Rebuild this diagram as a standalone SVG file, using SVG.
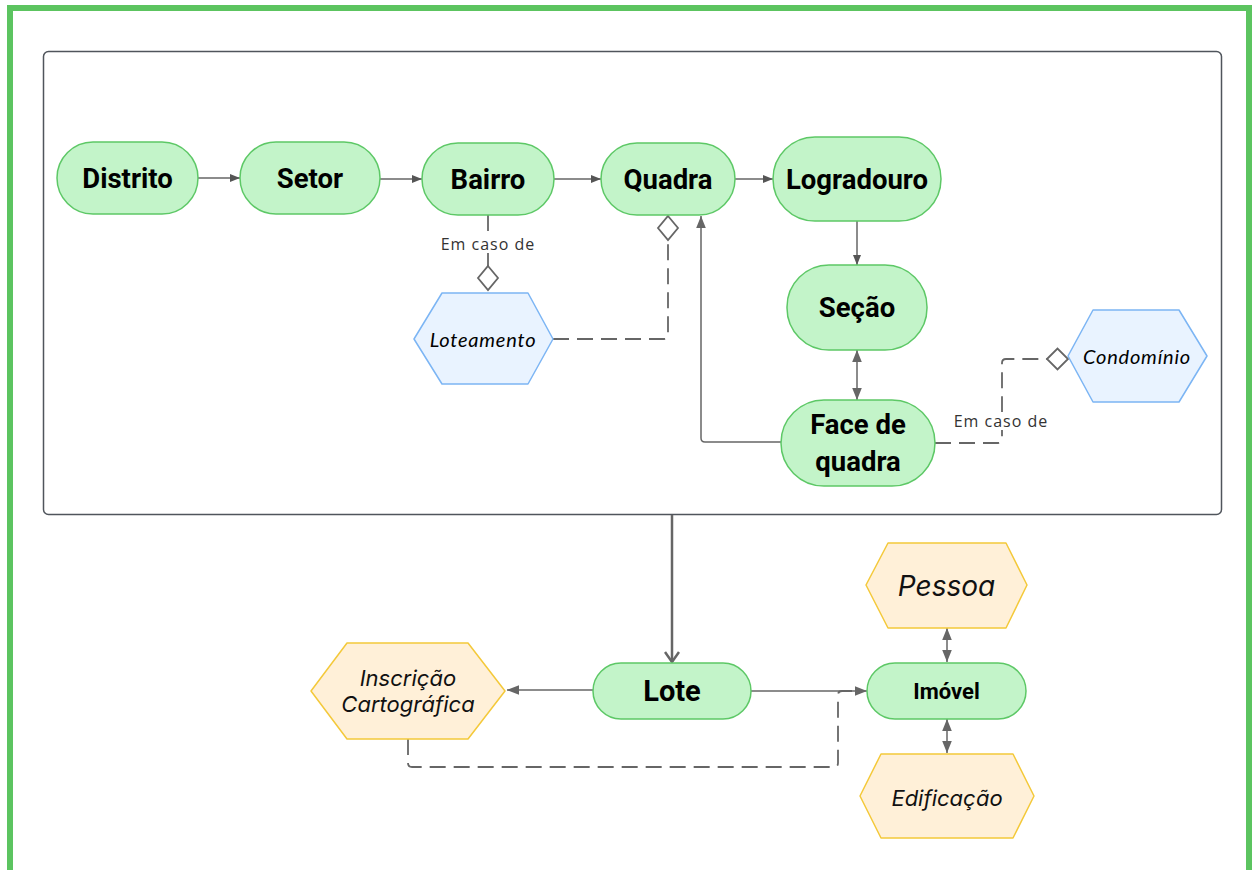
<svg xmlns="http://www.w3.org/2000/svg" width="1252" height="870" viewBox="0 0 1252 870">
<style>
.g rect{fill:#c3f4c9;stroke:#5dc866;stroke-width:1.5}
.gt{font-family:Roboto,"Liberation Sans",sans-serif;font-weight:bold;font-size:27.5px;fill:#000;text-anchor:middle;dominant-baseline:central}
.bh{fill:#e9f3ff;stroke:#7cb5f4;stroke-width:1.5;stroke-linejoin:round}
.yh{fill:#fff0d8;stroke:#f4c93a;stroke-width:1.5;stroke-linejoin:round}
.bt{font-family:Lato,"Noto Sans",sans-serif;font-style:italic;font-size:20px;letter-spacing:0.8px;fill:#000;text-anchor:middle;dominant-baseline:central}
.yt{font-family:Inter,"Liberation Sans",sans-serif;font-style:italic;font-size:22px;fill:#111;text-anchor:middle;dominant-baseline:central}
.c{fill:none;stroke:#666;stroke-width:1.5}
.d{fill:none;stroke:#666;stroke-width:1.8;stroke-dasharray:16 8}
.dm{fill:#fff;stroke:#666;stroke-width:1.8}
.lbl{font-family:"Open Sans","Noto Sans",sans-serif;font-size:16px;letter-spacing:1px;fill:#333;text-anchor:middle;dominant-baseline:central}
</style>
<defs>
<marker id="a" viewBox="0 0 10 10" refX="10" refY="5" markerWidth="10" markerHeight="10" markerUnits="userSpaceOnUse" orient="auto-start-reverse"><path d="M0,1 L10,5 L0,9 Z" fill="#555"/></marker>
<marker id="a2" viewBox="0 0 10 10" refX="10" refY="5" markerWidth="12" markerHeight="12" markerUnits="userSpaceOnUse" orient="auto-start-reverse"><path d="M0,1 L10,5 L0,9 Z" fill="#666"/></marker>
<marker id="ch" viewBox="0 0 12 16" refX="11" refY="8" markerWidth="12" markerHeight="16" markerUnits="userSpaceOnUse" orient="auto"><path d="M1,1 L11,8 L1,15" fill="none" stroke="#666" stroke-width="2.5"/></marker>
</defs>
<rect x="10" y="8" width="1239" height="900" fill="#fff" stroke="#5cc460" stroke-width="6"/>
<rect x="43.5" y="51.5" width="1178" height="463" rx="5" fill="#fff" stroke="#50555c" stroke-width="1.5"/>

<g id="connectors">
<path class="c" d="M198,178 H240" marker-end="url(#a)"/>
<path class="c" d="M380,179 H422" marker-end="url(#a)"/>
<path class="c" d="M554,179 H601" marker-end="url(#a)"/>
<path class="c" d="M735,179 H773" marker-end="url(#a)"/>
<path class="c" d="M857,221 V265" marker-end="url(#a)"/>
<path class="c" d="M857,350 V400" marker-start="url(#a2)" marker-end="url(#a2)"/>
<path class="c" d="M781,442 H705 Q701,442 701,438 V216" marker-end="url(#a2)"/>
<path class="d" d="M488,215 V236"/>
<path class="d" d="M488,252 V268"/>
<rect x="429" y="235" width="118" height="18" fill="#fff"/>
<text class="lbl" x="488" y="244">Em caso de</text>
<polygon class="dm" points="488,266 498,278 488,290 478,278"/>
<path class="d" d="M553,339 H664 Q668,339 668,335 V240"/>
<polygon class="dm" points="668,216 678,228 668,240 658,228"/>
<path class="d" d="M935,443 H998 Q1002,443 1002,439 V363 Q1002,359 1006,359 H1047"/>
<rect x="950" y="412" width="104" height="18" fill="#fff"/>
<text class="lbl" x="1001" y="421">Em caso de</text>
<polygon class="dm" points="1047,359 1057.5,348.5 1068,359 1057.5,369.5"/>
<path d="M672,515 V662" fill="none" stroke="#666" stroke-width="2.5" marker-end="url(#ch)"/>
<path class="c" d="M593,690 H507" marker-end="url(#a2)"/>
<path class="c" d="M751,691 H867" marker-end="url(#a2)"/>
<path class="d" d="M408,739 V763 Q408,767 412,767 H834 Q838,767 838,763 V695 Q838,691 842,691 H852"/>
<path class="c" d="M947,628 V662" marker-start="url(#a2)" marker-end="url(#a2)"/>
<path class="c" d="M947,719 V753" marker-start="url(#a2)" marker-end="url(#a2)"/>
</g>

<g id="distrito" class="g"><rect x="57" y="142" width="141" height="72" rx="36"/><text class="gt" x="127.5" y="178">Distrito</text></g>
<g id="setor" class="g"><rect x="240" y="142" width="140" height="72" rx="36"/><text class="gt" x="310" y="178">Setor</text></g>
<g id="bairro" class="g"><rect x="422" y="143" width="132" height="72" rx="36"/><text class="gt" x="488" y="179">Bairro</text></g>
<g id="quadra" class="g"><rect x="601" y="143" width="134" height="72" rx="36"/><text class="gt" x="668" y="179">Quadra</text></g>
<g id="logradouro" class="g"><rect x="773" y="137" width="168" height="84" rx="42"/><text class="gt" x="857" y="179">Logradouro</text></g>
<g id="secao" class="g"><rect x="787" y="265" width="140" height="85" rx="42"/><text class="gt" x="857" y="307">Seção</text></g>
<g id="face" class="g"><rect x="781" y="400" width="154" height="86" rx="43"/><text class="gt" x="858" y="424">Face de</text><text class="gt" x="858" y="461">quadra</text></g>
<g id="loteamento"><polygon class="bh" points="414,339 442,293 528,293 553,339 528,384 442,384"/><text class="bt" x="483" y="339">Loteamento</text></g>
<g id="condominio"><polygon class="bh" points="1068,356 1093,310 1179,310 1207,356 1179,402 1093,402"/><text class="bt" x="1137" y="356">Condomínio</text></g>
<g id="lote" class="g"><rect x="593" y="663" width="158" height="56" rx="28"/><text class="gt" x="672" y="691" style="font-size:29px">Lote</text></g>
<g id="imovel" class="g"><rect x="867" y="663" width="159" height="56" rx="28"/><text class="gt" x="946.5" y="691" style="font-size:22px">Imóvel</text></g>
<g id="pessoa"><polygon class="yh" points="866,585 888,543 1006,543 1027,585 1006,628 888,628"/><text class="yt" x="946.5" y="586" style="font-size:28px">Pessoa</text></g>
<g id="edificacao"><polygon class="yh" points="860,796 881,754 1013,754 1034,796 1013,838 881,838"/><text class="yt" x="947" y="798">Edificação</text></g>
<g id="inscricao"><polygon class="yh" points="311,691 347,643 468,643 505,691 468,739 347,739"/><text class="yt" x="408" y="678">Inscrição</text><text class="yt" x="408" y="704">Cartográfica</text></g>
</svg>
